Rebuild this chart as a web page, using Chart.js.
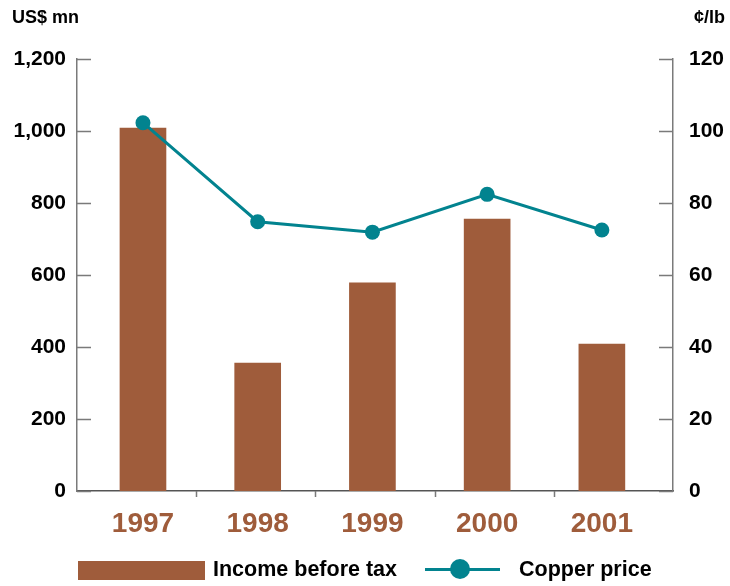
<!DOCTYPE html>
<html>
<head>
<meta charset="utf-8">
<script src="https://cdn.jsdelivr.net/npm/chart.js@4/dist/chart.umd.min.js"></script>
<style>
  body { margin: 0; background: #fff; }
  #wrap { position: relative; width: 730px; height: 586px; }
  .key { position: absolute; font: bold 21.5px "Liberation Sans", Arial, sans-serif; color: #000; line-height: 22px; }
  .swatch { position: absolute; background: #9f5c3b; }
  .lineKey { position: absolute; height: 3px; background: #02838f; }
  .dotKey { position: absolute; border-radius: 50%; background: #02838f; }
</style>
</head>
<body>
<div id="wrap">
  <canvas id="canvas" width="730" height="586"></canvas>
  <div class="swatch" style="left:78px; top:561px; width:127px; height:19px;"></div>
  <div class="key" style="left:213px; top:558px;">Income before tax</div>
  <div class="lineKey" style="left:425px; top:568px; width:75px;"></div>
  <div class="dotKey" style="left:450px; top:559px; width:20px; height:20px;"></div>
  <div class="key" style="left:519px; top:558px;">Copper price</div>
</div>
<script>
const years = ['1997', '1998', '1999', '2000', '2001'];
const incomeBeforeTax = [1008, 355, 578, 755, 408];   // US$ mn
const copperPrice = [102.3, 74.8, 71.9, 82.4, 72.5];   // cents per lb
const incomeTicks = [0, 200, 400, 600, 800, 1000, 1200];
const priceTicks = [0, 20, 40, 60, 80, 100, 120];

const BROWN = '#9f5c3b';
const TEAL = '#02838f';
const AXIS = '#7a7a7a';
const FONT = '"Liberation Sans", Arial, sans-serif';

// short inward ticks on both value axes, category marks under the baseline, unit captions
const axisMarks = {
  id: 'axisMarks',
  afterDraw(chart) {
    const { ctx, chartArea: a, scales } = chart;
    ctx.save();
    ctx.strokeStyle = AXIS;
    ctx.lineWidth = 1.5;
    ctx.beginPath();
    scales.y.ticks.forEach(t => {
      const py = Math.round(scales.y.getPixelForValue(t.value)) + 0.5;
      ctx.moveTo(a.left, py); ctx.lineTo(a.left + 14, py);
    });
    scales.y1.ticks.forEach(t => {
      const py = Math.round(scales.y1.getPixelForValue(t.value)) + 0.5;
      ctx.moveTo(a.right - 14, py); ctx.lineTo(a.right, py);
    });
    for (let k = 1; k < years.length; k++) {
      const px = Math.round(a.left + k * (a.right - a.left) / years.length) + 0.5;
      ctx.moveTo(px, a.bottom); ctx.lineTo(px, a.bottom + 6);
    }
    ctx.stroke();

    ctx.fillStyle = '#000';
    ctx.font = 'bold 18px ' + FONT;
    ctx.textAlign = 'left';
    ctx.fillText('US$ mn', 12, 23);
    ctx.textAlign = 'right';
    ctx.fillText('¢/lb', 725, 23);
    ctx.restore();
  }
};

new Chart(document.getElementById('canvas').getContext('2d'), {
  type: 'bar',
  data: {
    datasets: [
      {
        type: 'line',
        label: 'Copper price',
        data: copperPrice.map((v, i) => ({ x: i, y: v })),
        yAxisID: 'y1',
        borderColor: TEAL,
        backgroundColor: TEAL,
        borderWidth: 3,
        pointRadius: 7.5,
        pointBorderWidth: 0,
        tension: 0,
        order: 1
      },
      {
        label: 'Income before tax',
        data: incomeBeforeTax.map((v, i) => ({ x: i, y: v })),
        yAxisID: 'y',
        backgroundColor: BROWN,
        barThickness: 46,
        order: 2
      }
    ]
  },
  options: {
    responsive: false,
    animation: false,
    locale: 'en-US',
    layout: { padding: { top: 59, left: 0, right: 0, bottom: 0 } },
    plugins: {
      legend: { display: false },
      tooltip: { enabled: false }
    },
    scales: {
      x: {
        type: 'linear',
        offset: false,
        min: -0.575,
        max: 4.62,
        grid: { display: false },
        border: { color: '#555', width: 1.5 },
        afterBuildTicks: scale => { scale.ticks = years.map((_, i) => ({ value: i })); },
        afterFit: scale => { scale.height = 95; },
        ticks: {
          color: BROWN,
          font: { family: FONT, size: 28, weight: 'bold' },
          padding: 8,
          callback: v => years[v]
        }
      },
      y: {
        position: 'left',
        min: 0,
        max: 1200,
        grid: { display: false },
        border: { color: AXIS, width: 1.5 },
        afterBuildTicks: scale => { scale.ticks = incomeTicks.map(v => ({ value: v })); },
        afterFit: scale => { scale.width = 77; },
        ticks: {
          color: '#000',
          font: { family: FONT, size: 21, weight: 'bold' },
          padding: 3
        }
      },
      y1: {
        position: 'right',
        min: 0,
        max: 120,
        grid: { display: false },
        border: { color: AXIS, width: 1.5 },
        afterBuildTicks: scale => { scale.ticks = priceTicks.map(v => ({ value: v })); },
        afterFit: scale => { scale.width = 57; },
        ticks: {
          color: '#000',
          font: { family: FONT, size: 21, weight: 'bold' },
          padding: 8
        }
      }
    }
  },
  plugins: [axisMarks]
});
</script>
</body>
</html>
